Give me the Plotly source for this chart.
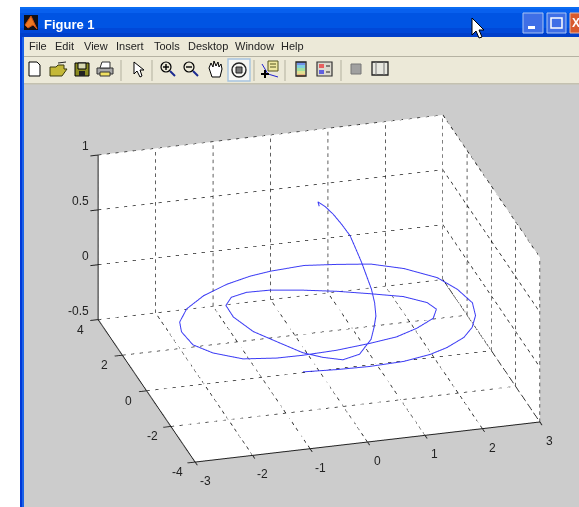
import plotly.graph_objects as go

x_ticks = [-3, -2, -1, 0, 1, 2, 3]
y_ticks = [-4, -2, 0, 2, 4]
z_ticks = [-0.5, 0, 0.5, 1]
z_labels = ["-0.5", "0", "0.5", "1"]
menu_items = ["File", "Edit", "View", "Insert", "Tools", "Desktop", "Window", "Help"]
menu_left = [27, 53, 82, 114, 152, 186, 233, 279]

curve_x = [-.27,.28,.82,1.40,1.89,2.21,2.57,2.79,2.95,2.98,2.86,2.64,2.18,1.67,1.11,.54,-.09,-.48,-.96,-1.47,-1.90,-2.17,-2.26,-2.23,-2.01,-1.59,-1.05,-.61,-.02,.58,1.07,1.48,1.84,1.98,1.89,1.56,1.05,.53,0,-.55,-.97,-1.28,-1.47,-1.49,-1.34,-1.05,-.80,-.55,-.29,-.03,.21,.32,.41,.47,.50,.49,.47,.43,.36,.25,.15,.03,.04]
curve_y = [.04,-.16,-.31,-.34,-.22,-.08,.23,.59,1.07,1.47,2.15,2.76,3.32,3.64,3.77,3.80,3.59,3.40,3.06,2.55,1.91,1.21,.63,-.17,-.77,-1.26,-1.48,-1.55,-1.55,-1.45,-1.33,-1.06,-.70,-.30,.04,.44,.76,1.03,1.26,1.41,1.38,1.16,.71,.01,-.93,-1.74,-2.44,-2.92,-3.34,-3.49,-3.30,-3.02,-2.75,-2.36,-1.96,-1.20,-.80,-.53,-.19,.02,.21,.23,.17]
curve_z = [-.50,-.48,-.46,-.445,-.43,-.41,-.39,-.37,-.35,-.30,-.28,-.26,-.24,-.22,-.21,-.19,-.17,-.16,-.15,-.14,-.13,-.12,-.11,-.10,-.09,-.09,-.08,-.07,-.06,-.05,-.04,-.03,-.02,-.01,0,.01,.015,.025,.03,.04,.05,.06,.07,.08,.09,.10,.11,.13,.16,.22,.31,.365,.42,.475,.53,.65,.715,.79,.84,.91,.954,1.0,.97]

W, H = 579, 507
xlo, xhi, ylo, yhi, zlo, zhi = -3, 3, -4, 4, -0.5, 1

# dashed grid: Plotly's own scene grid cannot dash, so each line is split into short pieces
gx, gy, gz = [], [], []
def dashed(a, b, periods, duty=0.5):
    for i in range(periods):
        t0, t1 = i / periods, (i + duty) / periods
        for k, lst in enumerate((gx, gy, gz)):
            lst.extend([a[k] + (b[k] - a[k]) * t0, a[k] + (b[k] - a[k]) * t1, None])
NX, NY, NZ = 40, 24, 23
DUTY_X = 0.38
for v in x_ticks:
    dashed((v, ylo, zlo), (v, yhi, zlo), NY); dashed((v, yhi, zlo), (v, yhi, zhi), NZ)
for v in y_ticks:
    dashed((xlo, v, zlo), (xhi, v, zlo), NX, DUTY_X); dashed((xhi, v, zlo), (xhi, v, zhi), NZ)
for v in z_ticks:
    dashed((xlo, yhi, v), (xhi, yhi, v), NX, DUTY_X); dashed((xhi, yhi, v), (xhi, ylo, v), NY)

fig = go.Figure()
fig.add_trace(go.Scatter3d(x=gx, y=gy, z=gz, mode="lines", line=dict(color="#000000", width=1.3), hoverinfo="skip", showlegend=False))
fig.add_trace(go.Scatter3d(x=curve_x, y=curve_y, z=curve_z, mode="lines", line=dict(color="#3c3cf5", width=2), showlegend=False))

ax = dict(showgrid=False, zeroline=False, showspikes=False, showline=True, linecolor="#222222", linewidth=2,
          ticks="outside", ticklen=8, tickwidth=2, tickcolor="#222222", showbackground=True, backgroundcolor="white",
          title=dict(text=""), showticklabels=False)

TICKFONT = dict(family="Liberation Sans", size=12, color="#222222")
scene_ann = []
for v in x_ticks:
    scene_ann.append(dict(x=v, y=ylo, z=zlo, text=str(v), showarrow=False, xshift=10, yshift=-19, font=TICKFONT))
for v in y_ticks:
    scene_ann.append(dict(x=xlo, y=v, z=zlo, text=str(v), showarrow=False, xshift=-18, yshift=-10, font=TICKFONT))
for v, t in zip(z_ticks, z_labels):
    scene_ann.append(dict(x=xlo, y=yhi, z=v, text=t, showarrow=False, xanchor="right", xshift=-7, yshift=9, font=TICKFONT))

# ---- window chrome, drawn in page pixels
def px(v): return v / W
def py(v): return 1 - v / H
shapes, notes = [], []
def rect(x0, y0, x1, y1, fill, line=None, lw=1):
    shapes.append(dict(type="rect", xref="paper", yref="paper", x0=px(x0), x1=px(x1), y0=py(y0), y1=py(y1),
                       fillcolor=fill, line=dict(color=line or fill, width=lw if line else 0), layer="below"))
def seg_line(x0, y0, x1, y1, color, lw=1):
    shapes.append(dict(type="line", xref="paper", yref="paper", x0=px(x0), x1=px(x1), y0=py(y0), y1=py(y1),
                       line=dict(color=color, width=lw), layer="below"))
def circle(cx, cy, r, fill, line, lw=1):
    shapes.append(dict(type="circle", xref="paper", yref="paper", x0=px(cx - r), x1=px(cx + r), y0=py(cy + r), y1=py(cy - r),
                       fillcolor=fill, line=dict(color=line, width=lw), layer="below"))
def poly(points, fill, line, lw=1, layer="below"):
    d = "M " + " L ".join(f"{px(a):.5f},{py(b):.5f}" for a, b in points) + " Z"
    shapes.append(dict(type="path", xref="paper", yref="paper", path=d, fillcolor=fill, line=dict(color=line, width=lw), layer=layer))

rect(24, 84, W, H, "#cccccc")
rect(20, 30, 22, H, "#0038d8")
rect(22, 30, 24, H, "#1a62e8")
bands = [(7, 9, "#0a6cf2"), (9, 13, "#0860ee"), (13, 28, "#0054e3"), (28, 33, "#0048d8"), (33, 37, "#003fca")]
for y0, y1, c in bands:
    rect(20, y0, W, y1, c)
rect(24, 37, W, 84, "#ece9d8")
seg_line(24, 56.5, W, 56.5, "#b5b2a2")
rect(24, 83, W, 84.5, "#c4c1b0")
# title bar
rect(24, 15, 38, 30, "#101018")
poly([(31, 16), (37, 29), (33, 25), (28, 28), (25, 25)], "#f07820", "#d05010")
notes.append(dict(text="<b>Figure 1</b>", x=px(42), y=py(24), xref="paper", yref="paper", xanchor="left", yanchor="middle",
                  showarrow=False, font=dict(family="Liberation Sans", size=13, color="white")))
rect(523, 13, 543, 33, "#3f6fe6", "#a8c4f4"); rect(528, 26, 535, 29, "white")
rect(547, 13, 566, 33, "#3f6fe6", "#a8c4f4"); rect(551, 18, 562, 28, "#3f6fe6", "white", 1.5)
rect(570, 13, W + 3, 33, "#d9592c", "#e8b8a0")
notes.append(dict(text="<b>X</b>", x=px(576), y=py(23), xref="paper", yref="paper", xanchor="center", yanchor="middle",
                  showarrow=False, font=dict(family="Liberation Sans", size=12, color="white")))
poly([(472, 18), (472, 35), (476, 31), (479, 38), (482, 37), (479, 30), (484, 30)], "white", "black", 1)
# menu
for name, left in zip(menu_items, menu_left):
    notes.append(dict(text=name, x=px(left), y=py(45.5), xref="paper", yref="paper", xanchor="left", yanchor="middle",
                      showarrow=False, font=dict(family="Liberation Sans", size=11, color="#222222")))
# toolbar separators
for s in (121, 152, 254, 285, 341):
    seg_line(s, 60, s, 81, "#bdbaa8", 1.2)
# new, open, save, print
poly([(29, 62), (37, 62), (40, 65), (40, 76), (29, 76)], "white", "black")
poly([(50, 67), (56, 67), (58, 65), (64, 65), (64, 69), (67, 69), (62, 76), (50, 76)], "#c4b838", "#3a3a10")
seg_line(58, 63, 66, 62, "#222222")
rect(75, 63, 89, 76, "#8a8a20", "black"); rect(78, 63, 86, 69, "#d8d8b0", "black"); rect(79, 71, 85, 76, "#222222")
rect(97, 68, 113, 74, "#a8a8a8", "#333333"); poly([(100, 68), (102, 62), (110, 62), (110, 68)], "white", "#333333"); rect(100, 72, 110, 76, "#f0e060", "#333333")
# pointer
poly([(134, 62), (134, 74), (137, 71), (140, 77), (142, 76), (140, 70), (144, 70)], "white", "black")
# zoom in / zoom out
for cx in (166, 189):
    seg_line(cx + 4, 71, cx + 9, 76, "#1a2a90", 2)
    circle(cx, 67, 5, "#ece9d8", "black", 1.2)
    seg_line(cx - 3, 67, cx + 3, 67, "black", 1.4)
seg_line(166, 64, 166, 70, "black", 1.4)
# hand
poly([(209, 68), (211, 63), (213, 67), (214, 61), (216, 66), (218, 62), (219, 67), (221, 64), (222, 69), (220, 77), (212, 77)], "white", "black")
# rotate toggle
rect(228, 59, 250, 81, "#f6f6f2", "#a6c4e0", 1.4)
circle(239, 70, 7, "rgba(0,0,0,0)", "#222222", 1.4)
rect(236, 67, 242, 73, "#777777", "#222222")
# data cursor
rect(268, 61, 278, 71, "#f0e8a0", "#555520")
seg_line(270, 64, 276, 64, "#555520"); seg_line(270, 67, 276, 67, "#555520")
seg_line(262, 64, 268, 74, "#2020d0"); seg_line(268, 74, 278, 77, "#2020d0")
seg_line(265, 70, 265, 78, "black", 2); seg_line(261, 74, 269, 74, "black", 2)
# colorbar
for y0, c in zip(range(62, 76, 3), ("#7090e8", "#80d0e0", "#a0e0a0", "#e0e090", "#e8b080")):
    rect(297, y0, 305, y0 + 3, c)
rect(296, 62, 306, 76, "rgba(0,0,0,0)", "#222222", 1.3)
# legend
rect(317, 62, 332, 76, "#dddad0", "#333333", 1.2)
rect(319, 64, 324, 68, "#e86060"); rect(319, 70, 324, 74, "#6060e0")
seg_line(326, 66, 330, 66, "#222222"); seg_line(326, 72, 330, 72, "#222222")
# hide / show plot tools
rect(351, 64, 361, 74, "#a0a0a0", "#777777")
rect(372, 62, 388, 75, "#e8e8e0", "#222222", 1.3)
seg_line(376, 62, 376, 75, "#777777"); seg_line(384, 62, 384, 75, "#777777")

fig.update_layout(
    width=W, height=H, margin=dict(l=0, r=0, t=0, b=0), paper_bgcolor="white", showlegend=False,
    scene=dict(
        domain=dict(x=[59 / W, 1.0], y=[0.0, 1 - 70 / H]),
        xaxis=dict(ax, range=[xlo, xhi], tickvals=x_ticks),
        yaxis=dict(ax, range=[ylo, yhi], tickvals=y_ticks),
        zaxis=dict(ax, range=[zlo, zhi], tickvals=z_ticks),
        aspectmode="manual", aspectratio=dict(x=1.639, y=1.639, z=0.827),
        camera=dict(projection=dict(type="orthographic"), up=dict(x=0, y=0, z=1), center=dict(x=0, y=0, z=0),
                    eye=dict(x=-0.74, y=-2.63, z=1.24)),
        annotations=scene_ann,
    ),
    shapes=shapes, annotations=notes,
)
fig.write_html("out.html", config={"displayModeBar": False},
               post_script="document.body.style.margin='0';document.body.style.overflow='hidden';")
